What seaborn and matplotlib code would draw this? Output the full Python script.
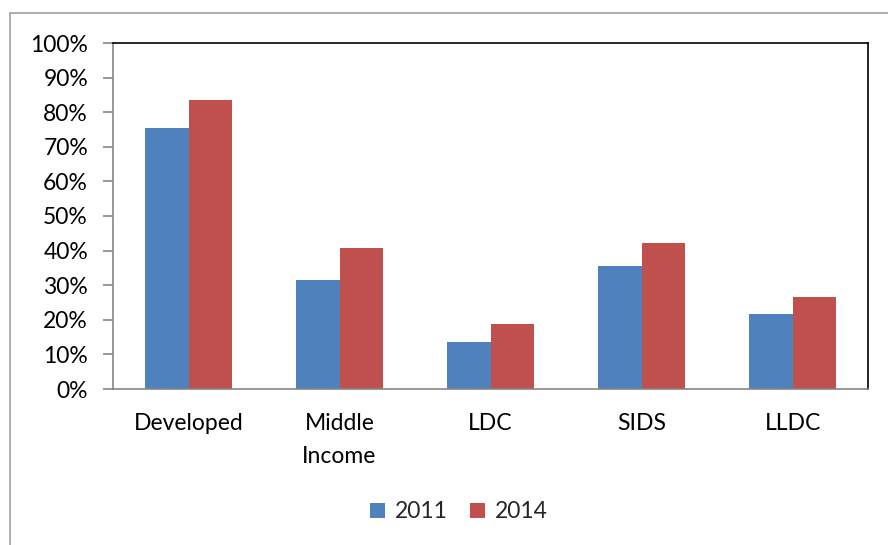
import pandas as pd
import matplotlib.pyplot as plt
import seaborn as sns
from matplotlib.lines import Line2D
from matplotlib.patches import Patch

# Data
categories = ['Developed', 'Middle\nIncome', 'LDC', 'SIDS', 'LLDC']
years = ['2011', '2014']
values_2011 = [75.4, 31.5, 13.6, 35.5, 21.6]
values_2014 = [83.5, 40.8, 18.8, 42.2, 26.5]

df = pd.DataFrame({
    'category': categories * 2,
    'year': [years[0]] * 5 + [years[1]] * 5,
    'value': values_2011 + values_2014,
})

sns.set_theme(style="white")
plt.rcParams['font.family'] = ['Lato', 'DejaVu Sans']

palette = {'2011': '#4F81BD', '2014': '#C0504D'}
fs = 16.5

fig = plt.figure(figsize=(8.88, 5.45), dpi=100)
ax = fig.add_axes([113 / 888, 1 - 389 / 545, (868 - 113) / 888, (389 - 43) / 545])

sns.barplot(data=df, x='category', y='value', hue='year', palette=palette,
            width=0.57, gap=0, saturation=1, edgecolor='none', ax=ax, legend=False)

ax.set_ylim(0, 100)
ax.set_xlim(-0.5, 4.5)
ax.set_yticks(range(0, 101, 10))
ax.set_yticklabels([f'{v}%' for v in range(0, 101, 10)], fontsize=fs, color='black')
ax.set_xticks([i - 0.5 for i in range(6)])
ax.set_xticklabels([''] * 6)
ax.set_xticks(range(5), minor=True)
ax.set_xticklabels(categories, minor=True, fontsize=fs, color='black',
                   linespacing=1.7, va='top')
ax.tick_params(axis='x', which='minor', length=0, pad=17)
ax.tick_params(axis='x', which='major', length=7, width=1.2, color='#868686', direction='out')
ax.tick_params(axis='y', length=7, width=1.2, color='#868686', direction='out', pad=11, left=True)
ax.set_xlabel('')
ax.set_ylabel('')

for side in ['left', 'bottom']:
    ax.spines[side].set_color('#868686')
    ax.spines[side].set_linewidth(1.2)
for side in ['top', 'right']:
    ax.spines[side].set_color('black')
    ax.spines[side].set_linewidth(1.2)

# outer chart frame
fig.add_artist(Line2D([10 / 888, 1], [1 - 13 / 545, 1 - 13 / 545], color='#A0A0A0', lw=1.2))
fig.add_artist(Line2D([10 / 888, 10 / 888], [0, 1 - 13 / 545], color='#A0A0A0', lw=1.2))

handles = [Patch(facecolor=palette[y], edgecolor='none') for y in years]
fig.legend(handles, years, loc='center', bbox_to_anchor=(459 / 888, 1 - 512 / 545),
           ncol=2, frameon=False, fontsize=fs, handlelength=0.65, handleheight=0.65,
           handletextpad=0.45, columnspacing=0.95)

fig.savefig('out.png', dpi=100)
